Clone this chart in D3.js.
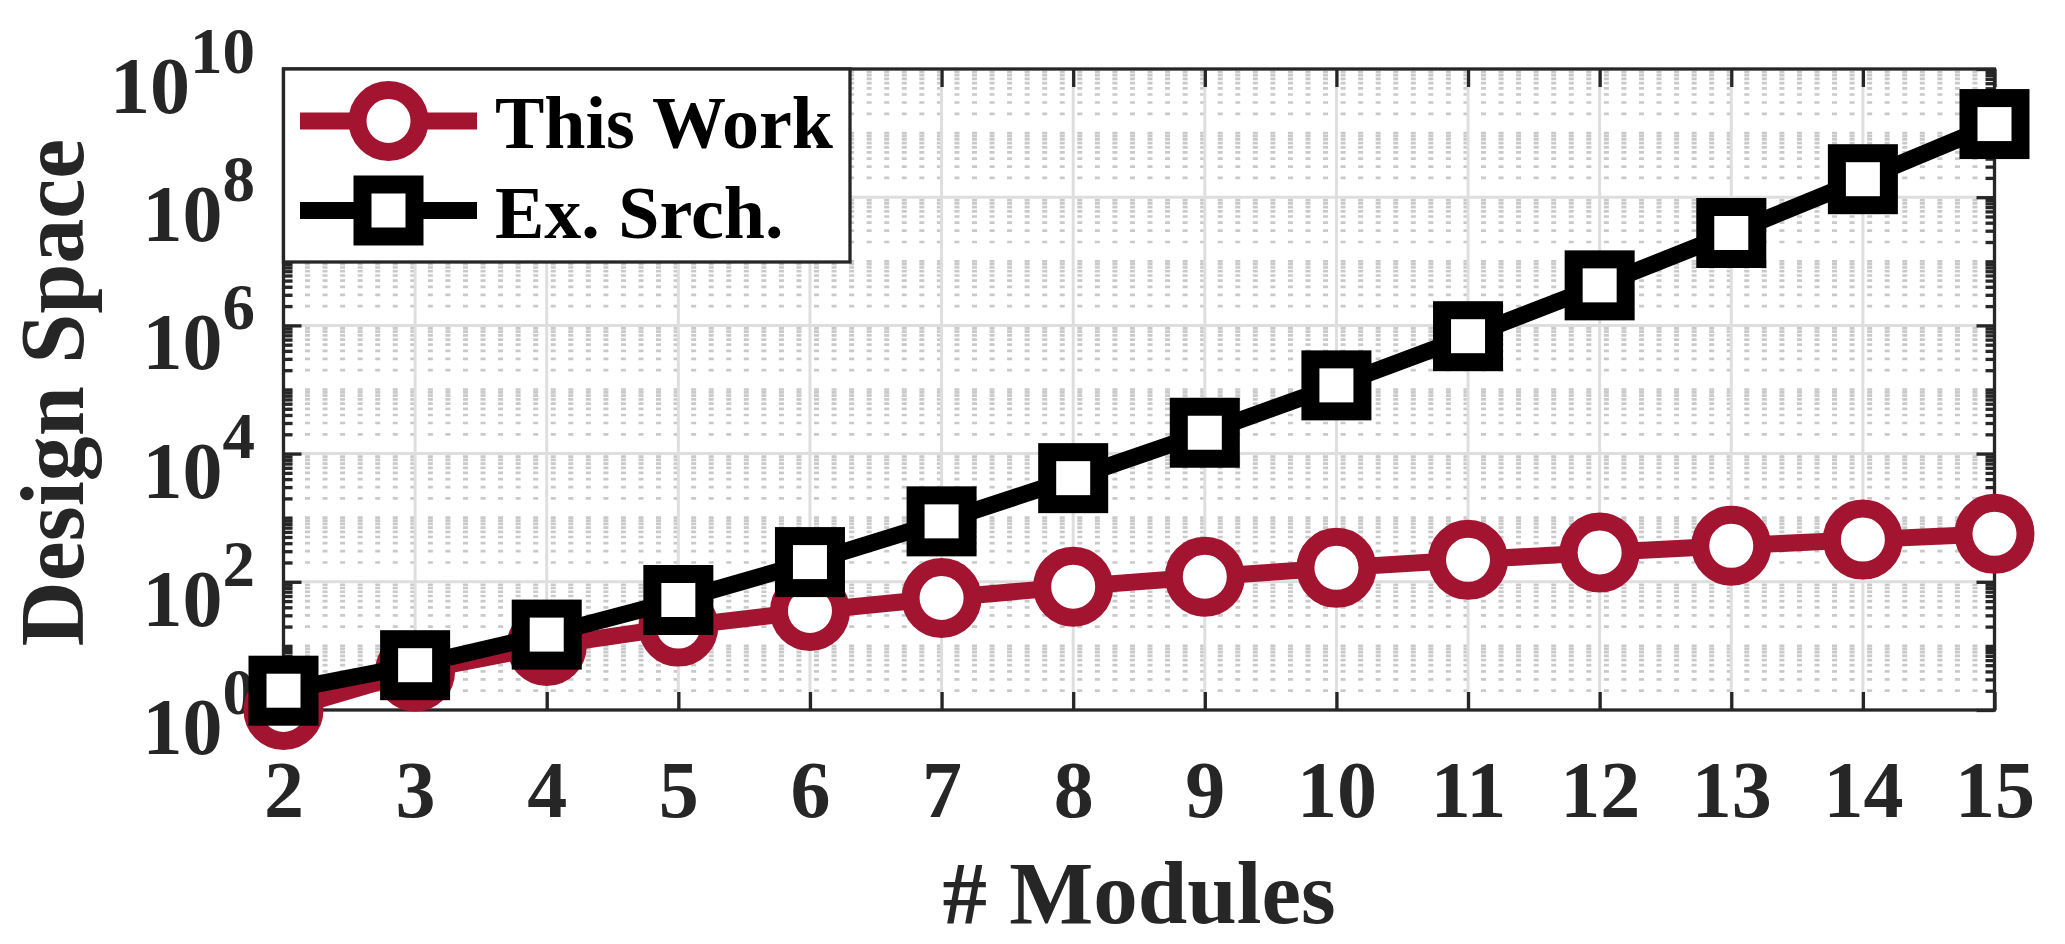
<!DOCTYPE html>
<html>
<head>
<meta charset="utf-8">
<script src="https://cdnjs.cloudflare.com/ajax/libs/d3/7.8.5/d3.min.js"></script>
<style>
    body { margin: 0; background: #fff; }
    svg { display: block; font-family: "Liberation Serif", "Times New Roman", serif; font-weight: bold; }
</style>
</head>
<body>
<svg id="chart" width="2065" height="944"></svg>
<script>
// data
const modules = [2, 3, 4, 5, 6, 7, 8, 9, 10, 11, 12, 13, 14, 15];
const thisWork = [1, 4, 10, 20, 35, 56, 84, 120, 165, 220, 286, 364, 455, 560];
const exSearch = [2, 5, 15, 52, 203, 877, 4140, 21147, 115975, 678570, 4213597, 27644437, 190899322, 1382958545];
const yTickExps = [0, 2, 4, 6, 8, 10];
const seriesNames = ["This Work", "Ex. Srch."];

const axisColor = "#262626";
const red = "#A2142F";
const majorGrid = "#dedede";
const minorGrid = "#c9c9c9";

const svg = d3.select("#chart");
const plotL = 283.5, plotR = 1994.5, plotT = 69, plotB = 710;

const x = d3.scaleLinear().domain([2, 15]).range([plotL, plotR]);
const y = d3.scaleLog().domain([1, 1e10]).range([plotB, plotT]);

// minor ticks: 2..9 x 10^k plus the odd decades
const yMinor = [];
for (let k = 0; k < 10; k++) {
    for (let m = 2; m <= 9; m++) yMinor.push(m * Math.pow(10, k));
    if (k % 2 === 1) yMinor.push(Math.pow(10, k));
}
const yMajor = yTickExps.map(e => Math.pow(10, e));

// matlab put its x minor grid on an odd step
const xMinorStart = 2.049, xMinorStep = 0.13336;

const grid = svg.append("g");

// minor grid shows up as dots where the dotted lines cross
const period = x(2 + xMinorStep) - x(2);
const c0 = x(xMinorStart);
grid.selectAll(".minor-h")
    .data(yMinor)
    .enter().append("line")
    .attr("x1", c0 - 2.5)
    .attr("x2", plotR - 4)
    .attr("y1", d => y(d))
    .attr("y2", d => y(d))
    .attr("stroke", minorGrid)
    .attr("stroke-width", 2.7)
    .attr("stroke-dasharray", `5 ${period - 5}`);

grid.selectAll(".major-h")
    .data(yMajor.slice(1, -1))
    .enter().append("line")
    .attr("x1", plotL)
    .attr("x2", plotR)
    .attr("y1", d => y(d))
    .attr("y2", d => y(d))
    .attr("stroke", majorGrid)
    .attr("stroke-width", 3);

grid.selectAll(".major-v")
    .data(modules.slice(1, -1))
    .enter().append("line")
    .attr("x1", d => x(d))
    .attr("x2", d => x(d))
    .attr("y1", plotT)
    .attr("y2", plotB)
    .attr("stroke", majorGrid)
    .attr("stroke-width", 3);

// ticks, all pointing inward
function styleAxis(g) {
    g.select(".domain").remove();
    g.selectAll(".tick line").attr("stroke", axisColor).attr("stroke-width", 3.3);
}

svg.append("g")
    .attr("transform", `translate(0,${plotB})`)
    .call(d3.axisBottom(x).tickValues(modules).tickSizeInner(-18).tickSizeOuter(0).tickPadding(50).tickFormat(d3.format("d")))
    .call(styleAxis)
    .call(g => g.selectAll("text")
        .attr("font-size", 80)
        .attr("fill", axisColor)
        .attr("font-family", "Liberation Serif")
        .attr("font-weight", "bold"));

svg.append("g")
    .attr("transform", `translate(0,${plotT})`)
    .call(d3.axisTop(x).tickValues(modules).tickSizeInner(-18).tickSizeOuter(0).tickFormat(""))
    .call(styleAxis);

[[d3.axisLeft, plotL], [d3.axisRight, plotR]].forEach(([axisFn, pos]) => {
    svg.append("g")
        .attr("transform", `translate(${pos},0)`)
        .call(axisFn(y).tickValues(yMajor).tickSizeInner(-18).tickSizeOuter(0).tickFormat(""))
        .call(styleAxis);
    svg.append("g")
        .attr("transform", `translate(${pos},0)`)
        .call(axisFn(y).tickValues(yMinor).tickSizeInner(-9).tickSizeOuter(0).tickFormat(""))
        .call(styleAxis);
});

svg.append("rect")
    .attr("x", plotL)
    .attr("y", plotT)
    .attr("width", plotR - plotL)
    .attr("height", plotB - plotT)
    .attr("fill", "none")
    .attr("stroke", axisColor)
    .attr("stroke-width", 3.3);

// y tick labels as 10^n
const yLabels = svg.append("g")
    .selectAll("text")
    .data(yTickExps)
    .enter().append("text")
    .attr("x", 255)
    .attr("y", d => y(Math.pow(10, d)) + 44)
    .attr("text-anchor", "end")
    .attr("fill", axisColor);
yLabels.append("tspan").attr("font-size", 80).text("10");
yLabels.append("tspan").attr("font-size", 65).attr("dy", -40).text(d => d);

// axis titles
svg.append("text")
    .attr("x", (plotL + plotR) / 2)
    .attr("y", 923)
    .attr("text-anchor", "middle")
    .attr("font-size", 89)
    .attr("fill", axisColor)
    .text("# Modules");

svg.append("text")
    .attr("transform", `translate(83,${(plotT + plotB) / 2 + 3}) rotate(-90)`)
    .attr("text-anchor", "middle")
    .attr("font-size", 90)
    .attr("fill", axisColor)
    .text("Design Space");

// series
const series = [
    { name: seriesNames[0], values: thisWork, color: red, marker: "circle" },
    { name: seriesNames[1], values: exSearch, color: "#000", marker: "square" }
];

const line = d3.line()
    .x(d => x(d[0]))
    .y(d => y(d[1]));

function drawMarker(g, kind, color) {
    if (kind === "circle") {
        g.append("circle")
            .attr("r", 31)
            .attr("fill", "#fff")
            .attr("stroke", color)
            .attr("stroke-width", 18);
    } else {
        g.append("rect")
            .attr("x", -26)
            .attr("y", -26)
            .attr("width", 52)
            .attr("height", 52)
            .attr("fill", "#fff")
            .attr("stroke", color)
            .attr("stroke-width", 18);
    }
}

series.forEach(s => {
    const pts = modules.map((m, i) => [m, s.values[i]]);
    const g = svg.append("g");
    g.append("path")
        .datum(pts)
        .attr("d", line)
        .attr("fill", "none")
        .attr("stroke", s.color)
        .attr("stroke-width", 17);
    g.selectAll(".pt")
        .data(pts)
        .enter().append("g")
        .attr("transform", d => `translate(${x(d[0])},${y(d[1])})`)
        .each(function () { drawMarker(d3.select(this), s.marker, s.color); });
});

// legend
const legend = svg.append("g");
legend.append("rect")
    .attr("x", plotL)
    .attr("y", plotT)
    .attr("width", 850 - plotL)
    .attr("height", 262 - plotT)
    .attr("fill", "#fff")
    .attr("stroke", axisColor)
    .attr("stroke-width", 3.3);

const rowY = [121, 210.5];
series.forEach((s, i) => {
    const row = legend.append("g").attr("transform", `translate(0,${rowY[i]})`);
    row.append("line")
        .attr("x1", 300)
        .attr("x2", 477)
        .attr("stroke", s.color)
        .attr("stroke-width", 17);
    drawMarker(row.append("g").attr("transform", "translate(388.5,0)"), s.marker, s.color);
    row.append("text")
        .attr("x", 495)
        .attr("y", 27)
        .attr("font-size", 74)
        .attr("fill", "#000")
        .text(s.name);
});
</script>
</body>
</html>
